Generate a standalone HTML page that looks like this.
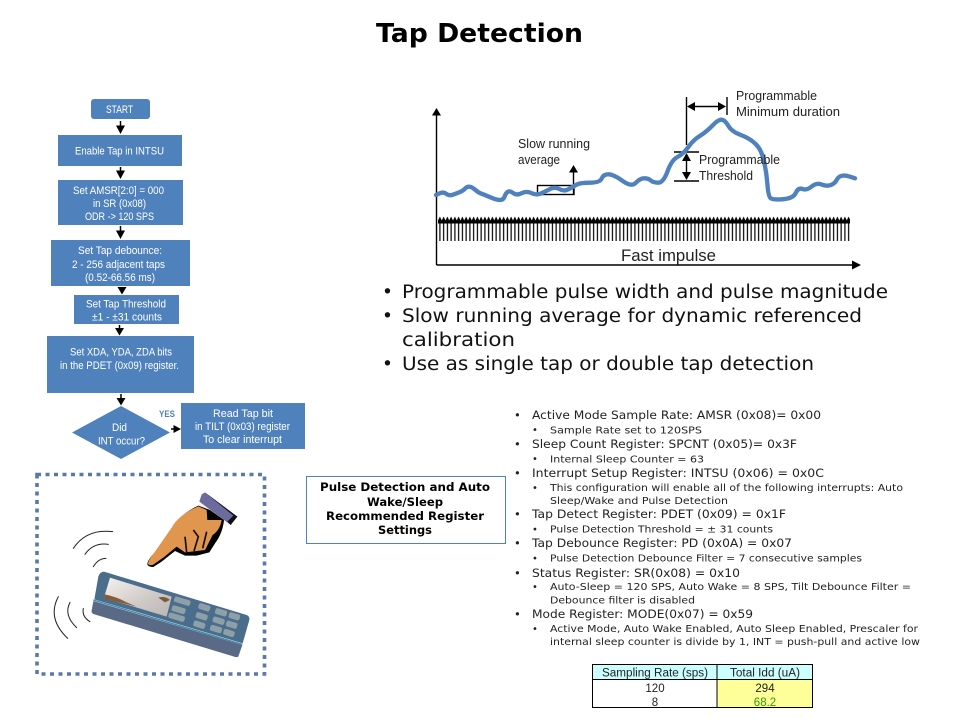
<!DOCTYPE html>
<html><head><meta charset="utf-8"><title>Tap Detection</title>
<style>
html,body{margin:0;padding:0;background:#fff;width:960px;height:720px;overflow:hidden}
svg{display:block}
.t{font-family:"DejaVu Sans",sans-serif}
.l{font-family:"Liberation Sans",sans-serif}
.f{font-family:"Liberation Sans",sans-serif;font-size:11px;fill:#fff}
.b{font-family:"DejaVu Sans",sans-serif;font-size:18.5px;fill:#111}
.r{font-family:"DejaVu Sans",sans-serif;font-size:11.5px;fill:#222}
.s{font-family:"DejaVu Sans",sans-serif;font-size:10px;fill:#222}
.c{font-family:"Liberation Sans",sans-serif;font-size:11.5px;fill:#222}
.p{font-family:"DejaVu Sans",sans-serif;font-size:11.5px;font-weight:bold;fill:#000}
.a{font-family:"Liberation Sans",sans-serif;font-size:12.5px;fill:#222}
</style></head><body>
<svg width="960" height="720" viewBox="0 0 960 720" xmlns="http://www.w3.org/2000/svg">
<defs>
<pattern id="imp" patternUnits="userSpaceOnUse" x="438" y="216" width="3.75" height="25">
<path d="M0 4.500 L1.87 0.500 L3.75 4.500 L3.75 7.500 L0 7.500 Z" fill="#000"/>
<rect x="1.300" y="6" width="1.200" height="19" fill="#000"/>
</pattern>
<linearGradient id="scr" x1="0" y1="0" x2="1" y2="1"><stop offset="0" stop-color="#f4f1ee"/><stop offset=".6" stop-color="#cfc9c6"/><stop offset="1" stop-color="#b9b4b4"/></linearGradient>
</defs>

<text class="t" x="376" y="42" font-size="26" font-weight="bold" fill="#000" textLength="207" lengthAdjust="spacingAndGlyphs">Tap Detection</text>

<!-- Flowchart -->
<g fill="#4f81bd">
<rect x="91" y="99" width="59" height="20" rx="3"/>
<rect x="58" y="135" width="124" height="31"/>
<rect x="58" y="180" width="125" height="45"/>
<rect x="51" y="240" width="139" height="46"/>
<rect x="74" y="295" width="105" height="29"/>
<rect x="47" y="336" width="147" height="57"/>
<polygon points="121,406 170,432.5 121,459 72,432.5"/>
<rect x="181" y="403" width="124" height="46"/>
</g>
<g stroke="#000" stroke-width="1.5" fill="#000">
<line x1="120.5" y1="121" x2="120.5" y2="128"/><polygon stroke="none" points="116,125.500 125,125.500 120.500,134"/>
<line x1="120.5" y1="167" x2="120.5" y2="173"/><polygon stroke="none" points="116,170.500 125,170.500 120.500,179"/>
<line x1="120.5" y1="226" x2="120.5" y2="233"/><polygon stroke="none" points="116,230.500 125,230.500 120.500,239"/>
<line x1="122" y1="287" x2="122" y2="290"/><polygon stroke="none" points="117.500,287 126.500,287 122,294.500"/>
<line x1="119.5" y1="325" x2="119.5" y2="330"/><polygon stroke="none" points="115,328 124,328 119.500,335.500"/>
<line x1="121" y1="394" x2="121" y2="400"/><polygon stroke="none" points="116.500,398 125.500,398 121,405.500"/>
<line x1="171" y1="429" x2="176" y2="429"/><polygon stroke="none" points="173.500,425 173.500,433 181,429"/>
</g>
<text class="f" x="106" y="113" textLength="27" lengthAdjust="spacingAndGlyphs">START</text>
<text class="f" x="75" y="154.500" textLength="89" lengthAdjust="spacingAndGlyphs">Enable Tap in INTSU</text>
<text class="f" x="73" y="194" textLength="91" lengthAdjust="spacingAndGlyphs">Set AMSR[2:0] = 000</text>
<text class="f" x="93" y="207" textLength="53" lengthAdjust="spacingAndGlyphs">in SR (0x08)</text>
<text class="f" x="85" y="220" textLength="69" lengthAdjust="spacingAndGlyphs">ODR -&gt; 120 SPS</text>
<text class="f" x="78" y="254" textLength="84" lengthAdjust="spacingAndGlyphs">Set Tap debounce:</text>
<text class="f" x="72" y="268" textLength="93" lengthAdjust="spacingAndGlyphs">2 - 256 adjacent taps</text>
<text class="f" x="85" y="281" textLength="70" lengthAdjust="spacingAndGlyphs">(0.52-66.56 ms)</text>
<text class="f" x="86" y="307.500" textLength="80" lengthAdjust="spacingAndGlyphs">Set Tap Threshold</text>
<text class="f" x="92" y="320.500" textLength="70" lengthAdjust="spacingAndGlyphs">±1 - ±31 counts</text>
<text class="f" x="70" y="355.500" textLength="102" lengthAdjust="spacingAndGlyphs">Set XDA, YDA, ZDA bits</text>
<text class="f" x="60" y="369" textLength="119" lengthAdjust="spacingAndGlyphs">in the PDET (0x09) register.</text>
<text class="f" x="112" y="431" textLength="15" lengthAdjust="spacingAndGlyphs">Did</text>
<text class="f" x="98" y="444.500" textLength="47" lengthAdjust="spacingAndGlyphs">INT occur?</text>
<text class="f" x="213" y="417" textLength="60" lengthAdjust="spacingAndGlyphs">Read Tap bit</text>
<text class="f" x="195" y="430" textLength="95" lengthAdjust="spacingAndGlyphs">in TILT (0x03) register</text>
<text class="f" x="203" y="443" textLength="79" lengthAdjust="spacingAndGlyphs">To clear interrupt</text>
<text class="l" x="159" y="417" font-size="9" font-weight="bold" fill="#4f81bd" textLength="16" lengthAdjust="spacingAndGlyphs">YES</text>

<!-- Illustration -->
<rect x="37" y="474.5" width="227.5" height="199.5" fill="none" stroke="#5a78a8" stroke-width="3.6" stroke-dasharray="4 4.5"/>
<g transform="translate(30,465) scale(.33333)">
<g fill="none" stroke="#222" stroke-width="3" stroke-linecap="round">
<path d="M130 250 Q170 190 248 200"/><path d="M165 268 Q190 232 235 238"/><path d="M190 305 Q205 280 228 280"/>
<path d="M85 395 Q50 460 113 520"/><path d="M120 412 Q100 450 140 488"/><path d="M160 430 Q155 455 180 470"/>
</g>
<polygon points="515,88 525,82 622,155 602,180 508,110" fill="#6c6a9e"/>
<polygon points="525,82 622,155 602,180 592,170 610,152" fill="#111"/>
<polygon points="510,113 600,178 590,186 503,122" fill="#f4f4f4"/>
<path d="M352 298 Q352 285 375 262 L430 190 Q445 150 505 122 L540 135 L582 165 Q578 205 555 235 L538 262 L500 272 L465 272 L435 258 L395 290 L370 306 Q355 306 352 298 Z" fill="#000"/>
<path d="M354 296 Q355 285 375 260 L425 188 Q445 150 505 124 L530 135 L532 165 L575 165 Q570 195 548 210 L525 255 L500 258 L465 262 L440 245 L400 278 L368 300 Q356 302 354 296 Z" fill="#e0964f"/>
<path d="M490 195 L505 215 L492 258 M465 215 L470 262 M530 200 L518 250" stroke="#111" stroke-width="5" fill="none"/>
<path d="M190 408 L637 540 L625 575 Q620 578 610 574 L190 447 Q183 442 185 436 Z" fill="#5a6a86"/>
<path d="M222 320 L650 450 Q660 455 658 465 L638 535 L193 403 L205 335 Q210 320 222 320 Z" fill="#4a6d8c"/>
<path d="M190 405 L637 538" stroke="#3a8aaa" stroke-width="4" fill="none"/>
<polygon points="240,338 425,395 410,455 222,398" fill="url(#scr)"/>
<path d="M224 388 Q260 395 290 412 L320 425 L222 400 Z" fill="#8a5a35"/>
<path d="M385 398 Q405 392 420 405 L405 412 Z" fill="#7a5a40"/>
<g fill="#8f9fa8">
<rect x="432" y="400" width="50" height="17" rx="6" transform="rotate(17 457 408)"/>
<rect x="425" y="425" width="42" height="18" rx="6" transform="rotate(17 446 434)"/>
<rect x="415" y="448" width="50" height="17" rx="6" transform="rotate(17 440 456)"/>
<rect x="505" y="418" width="36" height="18" rx="6" transform="rotate(17 523 427)"/>
<rect x="497" y="445" width="36" height="18" rx="6" transform="rotate(17 515 454)"/>
<rect x="490" y="470" width="36" height="18" rx="6" transform="rotate(17 508 479)"/>
<rect x="555" y="433" width="36" height="18" rx="6" transform="rotate(17 573 442)"/>
<rect x="596" y="445" width="34" height="18" rx="6" transform="rotate(17 613 454)"/>
<rect x="548" y="458" width="36" height="18" rx="6" transform="rotate(17 566 467)"/>
<rect x="588" y="470" width="34" height="18" rx="6" transform="rotate(17 605 479)"/>
<rect x="540" y="483" width="36" height="18" rx="6" transform="rotate(17 558 492)"/>
<rect x="580" y="495" width="34" height="18" rx="6" transform="rotate(17 597 504)"/>
</g>
</g>

<!-- Chart -->
<g stroke="#000" stroke-width="1.4" fill="#000">
<line x1="436.5" y1="112" x2="436.5" y2="265"/><polygon stroke="none" points="432,115.500 441,115.500 436.500,108"/>
<line x1="436.5" y1="265" x2="855" y2="265"/><polygon stroke="none" points="852,260.500 852,269.500 861,265"/>
<rect x="537.5" y="185.5" width="36.5" height="9" fill="none"/>
<line x1="573.5" y1="170" x2="573.5" y2="194"/><polygon stroke="none" points="569,172.500 578,172.500 573.500,165"/>
<line x1="686.5" y1="97" x2="686.5" y2="145"/><line x1="727" y1="97" x2="727" y2="115"/>
<line x1="690" y1="106.5" x2="723" y2="106.5"/>
<polygon stroke="none" points="695,102 695,111 687,106.500"/><polygon stroke="none" points="718,102 718,111 726,106.500"/>
<line x1="674" y1="152" x2="699" y2="152"/><line x1="674" y1="181" x2="699" y2="181"/>
<line x1="686.5" y1="156" x2="686.5" y2="177"/>
<polygon stroke="none" points="682,161 691,161 686.500,153"/><polygon stroke="none" points="682,172 691,172 686.500,180"/>
</g>
<rect x="438" y="216" width="412" height="25" fill="url(#imp)"/>
<g transform="translate(420,80) scale(.33333)">
<path d="M48 345 L59 340 Q70 335 79 341.500 Q88 348 99 344 Q110 340 120 336 Q130 332 135 326 Q140 320 147.500 320 Q155 320 165 329 Q175 338 185 341.500 Q195 345 212.500 352.500 Q230 360 240 360 Q250 360 254 349 Q258 338 264 335 Q270 332 280 339.500 Q290 347 305 339.500 Q320 332 335 339.500 Q350 347 365 339.500 Q380 332 392.500 326 Q405 320 418.500 327.500 Q432 335 446 327.500 Q460 320 470 314 Q480 308 510 308 Q540 308 545 295.500 Q550 283 565 283 Q580 283 607.500 302.500 Q635 322 647.500 308.500 Q660 295 672.500 295 Q685 295 692.500 301.500 Q700 308 715 308 Q730 308 742.500 274 Q755 240 772.500 231 Q790 222 805 201 Q820 180 840 167.500 Q860 155 877.500 136.500 Q895 118 905 119 Q915 120 925 137.500 Q935 155 962.500 165 Q990 175 1007.500 192.500 Q1025 210 1032.500 245 Q1040 280 1042.500 315 Q1045 350 1052.500 355 Q1060 360 1090 357.500 Q1120 355 1127.500 338.500 Q1135 322 1147.500 327 Q1160 332 1175 319.500 Q1190 307 1205 313.500 Q1220 320 1232.500 315 Q1245 310 1250 300 Q1255 290 1265 287.500 Q1275 285 1290 290 L1305 295" fill="none" stroke="#4f81bd" stroke-width="13" stroke-linecap="round" stroke-linejoin="round"/>
</g>
<text class="a" x="518" y="148" textLength="72" lengthAdjust="spacingAndGlyphs">Slow running</text>
<text class="a" x="518" y="164" textLength="42" lengthAdjust="spacingAndGlyphs">average</text>
<text class="a" x="736" y="100" textLength="81" lengthAdjust="spacingAndGlyphs">Programmable</text>
<text class="a" x="736" y="116" textLength="104" lengthAdjust="spacingAndGlyphs">Minimum duration</text>
<text class="a" x="699" y="164" textLength="81" lengthAdjust="spacingAndGlyphs">Programmable</text>
<text class="a" x="699" y="180" textLength="54" lengthAdjust="spacingAndGlyphs">Threshold</text>
<text class="l" x="621" y="261" font-size="16.5" fill="#222" textLength="95" lengthAdjust="spacingAndGlyphs">Fast impulse</text>

<!-- Bullets -->
<g class="b">
<text x="382" y="298">•</text><text x="402" y="298" textLength="486" lengthAdjust="spacingAndGlyphs">Programmable pulse width and pulse magnitude</text>
<text x="382" y="322">•</text><text x="402" y="322" textLength="460" lengthAdjust="spacingAndGlyphs">Slow running average for dynamic referenced</text>
<text x="402" y="346" textLength="113" lengthAdjust="spacingAndGlyphs">calibration</text>
<text x="382" y="370">•</text><text x="402" y="370" textLength="412" lengthAdjust="spacingAndGlyphs">Use as single tap or double tap detection</text>
</g>

<!-- Pulse box -->
<rect x="306.500" y="476.500" width="199" height="67" fill="#fff" stroke="#4f81bd" stroke-width="1"/>
<text class="p" x="320" y="491" textLength="170" lengthAdjust="spacingAndGlyphs">Pulse Detection and Auto</text>
<text class="p" x="367" y="506" textLength="76" lengthAdjust="spacingAndGlyphs">Wake/Sleep</text>
<text class="p" x="326" y="520" textLength="158" lengthAdjust="spacingAndGlyphs">Recommended Register</text>
<text class="p" x="378" y="534" textLength="54" lengthAdjust="spacingAndGlyphs">Settings</text>

<!-- Register list -->
<g class="r">
<text x="514" y="419">•</text><text x="532" y="419" textLength="289" lengthAdjust="spacingAndGlyphs">Active Mode Sample Rate: AMSR (0x08)=  0x00</text>
<text x="514" y="448">•</text><text x="532" y="448" textLength="265" lengthAdjust="spacingAndGlyphs">Sleep Count Register: SPCNT (0x05)= 0x3F</text>
<text x="514" y="477">•</text><text x="532" y="477" textLength="292" lengthAdjust="spacingAndGlyphs">Interrupt Setup Register: INTSU (0x06) = 0x0C</text>
<text x="514" y="518">•</text><text x="532" y="518" textLength="254" lengthAdjust="spacingAndGlyphs">Tap Detect Register: PDET (0x09) = 0x1F</text>
<text x="514" y="547">•</text><text x="532" y="547" textLength="260" lengthAdjust="spacingAndGlyphs">Tap Debounce Register: PD (0x0A) = 0x07</text>
<text x="514" y="577">•</text><text x="532" y="577" textLength="208" lengthAdjust="spacingAndGlyphs">Status Register: SR(0x08) = 0x10</text>
<text x="514" y="618">•</text><text x="532" y="618" textLength="221" lengthAdjust="spacingAndGlyphs">Mode Register: MODE(0x07) = 0x59</text>
</g>
<g class="s">
<text x="532" y="433">•</text><text x="550" y="433.500" textLength="152" lengthAdjust="spacingAndGlyphs">Sample Rate set to 120SPS</text>
<text x="532" y="462">•</text><text x="550" y="462.500" textLength="154" lengthAdjust="spacingAndGlyphs">Internal Sleep Counter = 63</text>
<text x="532" y="491">•</text><text x="550" y="491" textLength="353" lengthAdjust="spacingAndGlyphs">This configuration will enable all of the following interrupts: Auto</text>
<text x="550" y="504" textLength="178" lengthAdjust="spacingAndGlyphs">Sleep/Wake and Pulse Detection</text>
<text x="532" y="532.500">•</text><text x="550" y="532.500" textLength="223" lengthAdjust="spacingAndGlyphs">Pulse Detection Threshold = ± 31 counts</text>
<text x="532" y="561.500">•</text><text x="550" y="561.500" textLength="312" lengthAdjust="spacingAndGlyphs">Pulse Detection Debounce Filter = 7 consecutive samples</text>
<text x="532" y="590">•</text><text x="550" y="590" textLength="361" lengthAdjust="spacingAndGlyphs">Auto-Sleep = 120 SPS, Auto Wake = 8 SPS, Tilt Debounce Filter =</text>
<text x="550" y="603.500" textLength="145" lengthAdjust="spacingAndGlyphs">Debounce filter is disabled</text>
<text x="532" y="632">•</text><text x="550" y="632" textLength="368" lengthAdjust="spacingAndGlyphs">Active Mode, Auto Wake Enabled, Auto Sleep Enabled, Prescaler for</text>
<text x="550" y="645" textLength="370" lengthAdjust="spacingAndGlyphs">internal sleep counter is divide by 1, INT = push-pull and active low</text>
</g>

<!-- Table -->
<rect x="592" y="664" width="125" height="15" fill="#ccffff"/>
<rect x="717" y="664" width="95" height="15" fill="#ccffff"/>
<rect x="717" y="679" width="95" height="28" fill="#ffff99"/>
<rect x="592.500" y="664.500" width="220" height="43" fill="none" stroke="#000"/>
<line x1="592" y1="679.500" x2="812" y2="679.500" stroke="#000"/>
<line x1="717" y1="664" x2="717" y2="708" stroke="#000"/>
<text class="c" x="602" y="676.500" textLength="106" lengthAdjust="spacingAndGlyphs">Sampling Rate (sps)</text>
<text class="c" x="730" y="676.500" textLength="70" lengthAdjust="spacingAndGlyphs">Total Idd (uA)</text>
<text class="c" x="655" y="692" text-anchor="middle">120</text>
<text class="c" x="655" y="706" text-anchor="middle">8</text>
<text class="c" x="765" y="692" text-anchor="middle" style="fill:#222">294</text>
<text class="c" x="765" y="706" text-anchor="middle" style="fill:#339900">68.2</text>
</svg>
</body></html>
